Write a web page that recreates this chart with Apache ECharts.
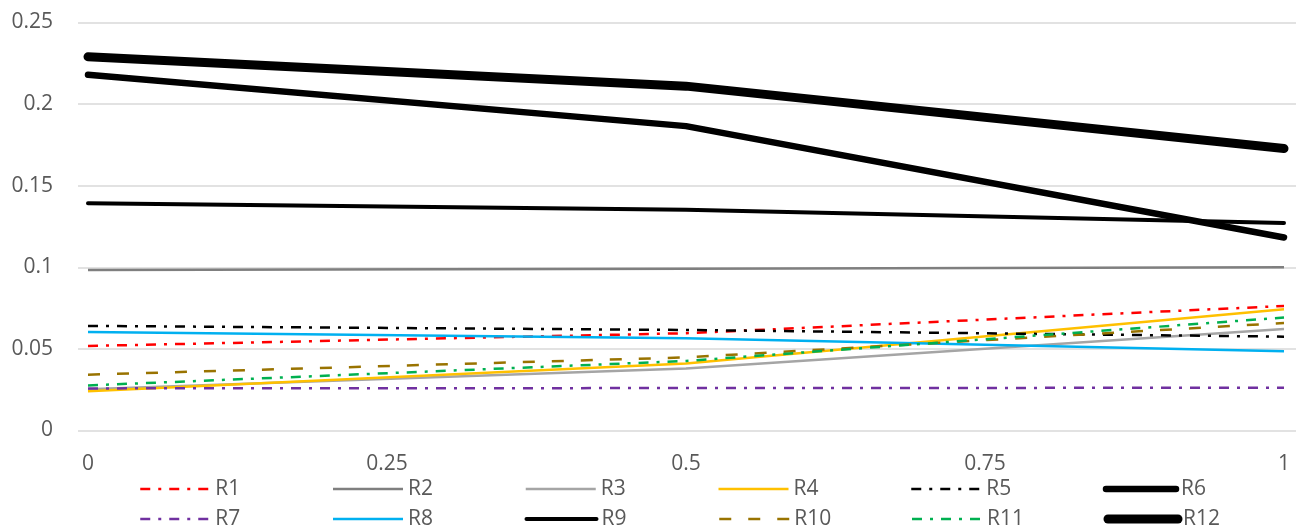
<!DOCTYPE html>
<html>
<head>
<meta charset="utf-8">
<script src="https://cdn.jsdelivr.net/npm/echarts@6/dist/echarts.min.js"></script>
<style>
  html, body { margin: 0; padding: 0; background: #ffffff; }
  #chart { width: 1296px; height: 531px; }
</style>
</head>
<body>
<div id="chart"></div>
<script>
// x positions shared by every series
const xValues = [0, 0.5, 1];
const xTickLabels = [0, 0.25, 0.5, 0.75, 1];

// series values at x = 0, 0.5, 1
const r1  = [0.0518, 0.0596, 0.0763];
const r2  = [0.0983, 0.0991, 0.1000];
const r3  = [0.0252, 0.0380, 0.0622];
const r4  = [0.0240, 0.0411, 0.0743];
const r5  = [0.0641, 0.0616, 0.0575];
const r6  = [0.2180, 0.1865, 0.1183];
const r7  = [0.0258, 0.0260, 0.0262];
const r8  = [0.0604, 0.0565, 0.0485];
const r9  = [0.1393, 0.1353, 0.1271];
const r10 = [0.0342, 0.0448, 0.0659];
const r11 = [0.0276, 0.0426, 0.0692];
const r12 = [0.2290, 0.2110, 0.1728];

const seriesNames = ['R1','R2','R3','R4','R5','R6','R7','R8','R9','R10','R11','R12'];
const seriesValues = [r1, r2, r3, r4, r5, r6, r7, r8, r9, r10, r11, r12];

const dashDot = [10, 8, 3, 8];
const longDash = [12, 17];
const styles = {
  R1:  { color: '#FF0000', width: 2.5, type: dashDot },
  R2:  { color: '#7F7F7F', width: 2.5, type: 'solid' },
  R3:  { color: '#A5A5A5', width: 2.5, type: 'solid' },
  R4:  { color: '#FFC000', width: 2.5, type: 'solid' },
  R5:  { color: '#000000', width: 2.5, type: dashDot },
  R6:  { color: '#000000', width: 6.5, type: 'solid', cap: 'round' },
  R7:  { color: '#7030A0', width: 2.5, type: dashDot },
  R8:  { color: '#00B0F0', width: 2.5, type: 'solid' },
  R9:  { color: '#000000', width: 4, type: 'solid', cap: 'round' },
  R10: { color: '#997300', width: 2.5, type: longDash },
  R11: { color: '#00B050', width: 2.5, type: dashDot },
  R12: { color: '#000000', width: 9, type: 'solid', cap: 'round' }
};

const textColor = '#595959';
const fontFamily = "'Open Sans', 'Liberation Sans', sans-serif";

function lineStyleOf(name) {
  const s = styles[name];
  return {
    color: s.color,
    width: s.width,
    type: s.type,
    cap: s.cap || 'butt',
    join: 'round'
  };
}

const series = seriesNames.map((name, i) => ({
  name: name,
  type: 'line',
  symbol: 'none',
  color: styles[name].color,
  lineStyle: lineStyleOf(name),
  emphasis: { disabled: true },
  data: xValues.map((x, j) => [x, seriesValues[i][j]])
}));

function legendRow(names, top) {
  return {
    data: names.map(name => ({ name: name, lineStyle: lineStyleOf(name) })),
    left: 134,
    top: top,
    orient: 'horizontal',
    itemWidth: 70,
    itemHeight: 12,
    itemGap: 16.5,
    selectedMode: false,
    itemStyle: { opacity: 0 },
    textStyle: { color: textColor, fontSize: 21, fontFamily: fontFamily, width: 100, lineHeight: 22 }
  };
}

const chart = echarts.init(document.getElementById('chart'), null, { renderer: 'canvas' });
chart.setOption({
  animation: false,
  backgroundColor: '#ffffff',
  grid: { left: 78, right: 0, top: 22.5, bottom: 100.5 },
  xAxis: {
    type: 'value',
    min: -0.00836,
    max: 1.01003,
    axisLine: { show: false },
    axisTick: { show: false },
    splitLine: { show: false },
    axisLabel: {
      customValues: xTickLabels,
      margin: 23,
      color: textColor,
      fontSize: 21,
      fontFamily: fontFamily
    }
  },
  yAxis: {
    type: 'value',
    min: 0,
    max: 0.25,
    interval: 0.05,
    axisLine: { show: false },
    axisTick: { show: false },
    splitLine: { lineStyle: { color: '#D9D9D9', width: 1.5 } },
    axisLabel: { margin: 25, color: textColor, fontSize: 21, fontFamily: fontFamily }
  },
  legend: [
    legendRow(seriesNames.slice(0, 6), 473),
    legendRow(seriesNames.slice(6), 503)
  ],
  series: series
});
</script>
</body>
</html>
